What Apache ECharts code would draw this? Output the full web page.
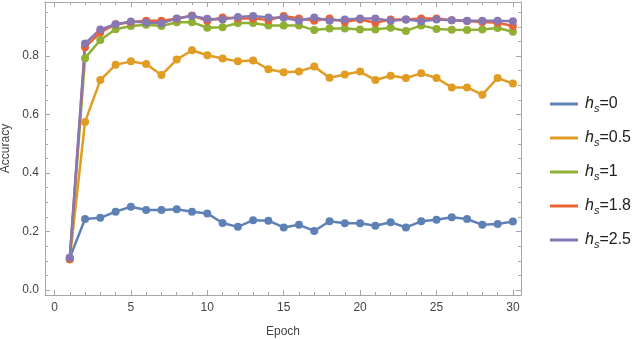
<!DOCTYPE html>
<html>
<head>
<meta charset="utf-8">
<script src="https://cdn.jsdelivr.net/npm/echarts@6/dist/echarts.min.js"></script>
<style>
html,body{margin:0;padding:0;background:#fff}
#mainBox{width:640px;height:340px}
</style>
</head>
<body>
<div id="mainBox"></div>
<script>
// 数据
var epochs = [1,2,3,4,5,6,7,8,9,10,11,12,13,14,15,16,17,18,19,20,21,22,23,24,25,26,27,28,29,30];
var acc0  = [0.110,0.243,0.247,0.268,0.285,0.274,0.274,0.276,0.268,0.262,0.229,0.216,0.239,0.237,0.214,0.223,0.202,0.235,0.228,0.228,0.220,0.232,0.214,0.235,0.240,0.249,0.243,0.223,0.226,0.234];
var acc05 = [0.105,0.575,0.718,0.770,0.782,0.773,0.735,0.788,0.820,0.803,0.792,0.782,0.785,0.755,0.745,0.747,0.764,0.726,0.737,0.747,0.718,0.733,0.725,0.741,0.725,0.693,0.693,0.668,0.725,0.706];
var acc1  = [0.105,0.793,0.855,0.892,0.903,0.907,0.903,0.916,0.916,0.897,0.899,0.913,0.913,0.905,0.905,0.905,0.889,0.894,0.894,0.891,0.891,0.897,0.886,0.905,0.893,0.890,0.889,0.891,0.896,0.883];
var acc18 = [0.105,0.830,0.881,0.909,0.916,0.921,0.921,0.928,0.939,0.921,0.932,0.929,0.929,0.923,0.937,0.929,0.921,0.929,0.917,0.925,0.914,0.925,0.925,0.929,0.929,0.923,0.920,0.917,0.914,0.903];
var acc25 = [0.110,0.843,0.891,0.909,0.918,0.915,0.912,0.929,0.937,0.928,0.925,0.934,0.937,0.932,0.931,0.921,0.932,0.921,0.925,0.929,0.929,0.921,0.925,0.919,0.925,0.923,0.921,0.921,0.921,0.919];
var hsNames = ['0','0.5','1','1.8','2.5'];
var colors = ['#5e81b5','#e19c24','#8fb032','#eb6235','#8778b3'];
var xMajor = [0,5,10,15,20,25,30];
var xMinor = [0,1,2,3,4,5,6,7,8,9,10,11,12,13,14,15,16,17,18,19,20,21,22,23,24,25,26,27,28,29,30];
var yMajor = [0,0.2,0.4,0.6,0.8];
var yMinor = [0,0.05,0.1,0.15,0.2,0.25,0.3,0.35,0.4,0.45,0.5,0.55,0.6,0.65,0.7,0.75,0.8,0.85,0.9,0.95];

var allAcc = [acc0, acc05, acc1, acc18, acc25];
var font = 'Liberation Sans, Arial, sans-serif';
var frameColor = '#a6a6a6';
var labelColor = '#444';

var myChart = echarts.init(document.getElementById('mainBox'));

function xAx(pos, ticks, len, showLabel, showLine) {
    return {
        type: 'value', position: pos, min: -0.62, max: 30.53,
        axisLine: {show: showLine, onZero: false, lineStyle: {color: frameColor, width: 1}},
        axisTick: {show: true, inside: true, length: len, customValues: ticks, lineStyle: {color: frameColor}},
        axisLabel: showLabel ? {show: true, customValues: xMajor, margin: 7, color: labelColor, fontSize: 12, fontFamily: font} : {show: false},
        splitLine: {show: false}
    };
}
function yAx(pos, ticks, len, showLabel, showLine) {
    return {
        type: 'value', position: pos, min: -0.017, max: 0.985,
        axisLine: {show: showLine, onZero: false, lineStyle: {color: frameColor, width: 1}},
        axisTick: {show: true, inside: true, length: len, customValues: ticks, lineStyle: {color: frameColor}},
        axisLabel: showLabel ? {show: true, customValues: yMajor, margin: 6, color: labelColor, fontSize: 12, fontFamily: font,
            formatter: function (v) { return v.toFixed(1); }} : {show: false},
        splitLine: {show: false}
    };
}

var xAxes = [xAx('bottom', xMajor, 5, true, true), xAx('bottom', xMinor, 3, false, false),
             xAx('top', xMajor, 5, false, true), xAx('top', xMinor, 3, false, false)];
xAxes[0].name = 'Epoch';
xAxes[0].nameLocation = 'middle';
xAxes[0].nameGap = 31;
xAxes[0].nameTextStyle = {color: labelColor, fontSize: 12, fontFamily: font};

var yAxes = [yAx('left', yMajor, 5, true, true), yAx('left', yMinor, 3, false, false),
             yAx('right', yMajor, 5, false, true), yAx('right', yMinor, 3, false, false)];
yAxes[0].name = 'Accuracy';
yAxes[0].nameLocation = 'middle';
yAxes[0].nameGap = 30;
yAxes[0].nameTextStyle = {color: labelColor, fontSize: 12, fontFamily: font};

var series = [];
for (var i = 0; i < allAcc.length; i++) {
    var pts = [];
    for (var j = 0; j < epochs.length; j++) pts.push([epochs[j], allAcc[i][j]]);
    series.push({
        name: 'h_s=' + hsNames[i],
        type: 'line',
        data: pts,
        symbol: 'circle',
        symbolSize: 8,
        lineStyle: {width: 2.5, color: colors[i]},
        itemStyle: {color: colors[i]},
        emphasis: {disabled: true},
        animation: false
    });
}

var option = {
    color: colors,
    grid: {left: 45, right: 119, top: 2, bottom: 45, outerBoundsMode: 'none'},
    xAxis: xAxes,
    yAxis: yAxes,
    legend: {
        orient: 'vertical',
        left: 545,
        top: 89,
        itemGap: 14,
        itemWidth: 28,
        itemHeight: 3,
        icon: 'rect',
        data: series.map(function (s) { return s.name; }),
        formatter: function (name) {
            return '{i|h}{sub|s}{t|' + name.slice(3) + '}';
        },
        textStyle: {
            padding: [0, 0, 0, 2],
            rich: {
                i: {fontStyle: 'italic', fontSize: 16, fontFamily: font, color: '#222', lineHeight: 20},
                sub: {fontStyle: 'italic', fontSize: 11, fontFamily: font, color: '#222', padding: [9, 0, 0, 0], lineHeight: 20},
                t: {fontSize: 16, fontFamily: font, color: '#222', lineHeight: 20}
            }
        }
    },
    series: series
};

myChart.setOption(option);
</script>
</body>
</html>
